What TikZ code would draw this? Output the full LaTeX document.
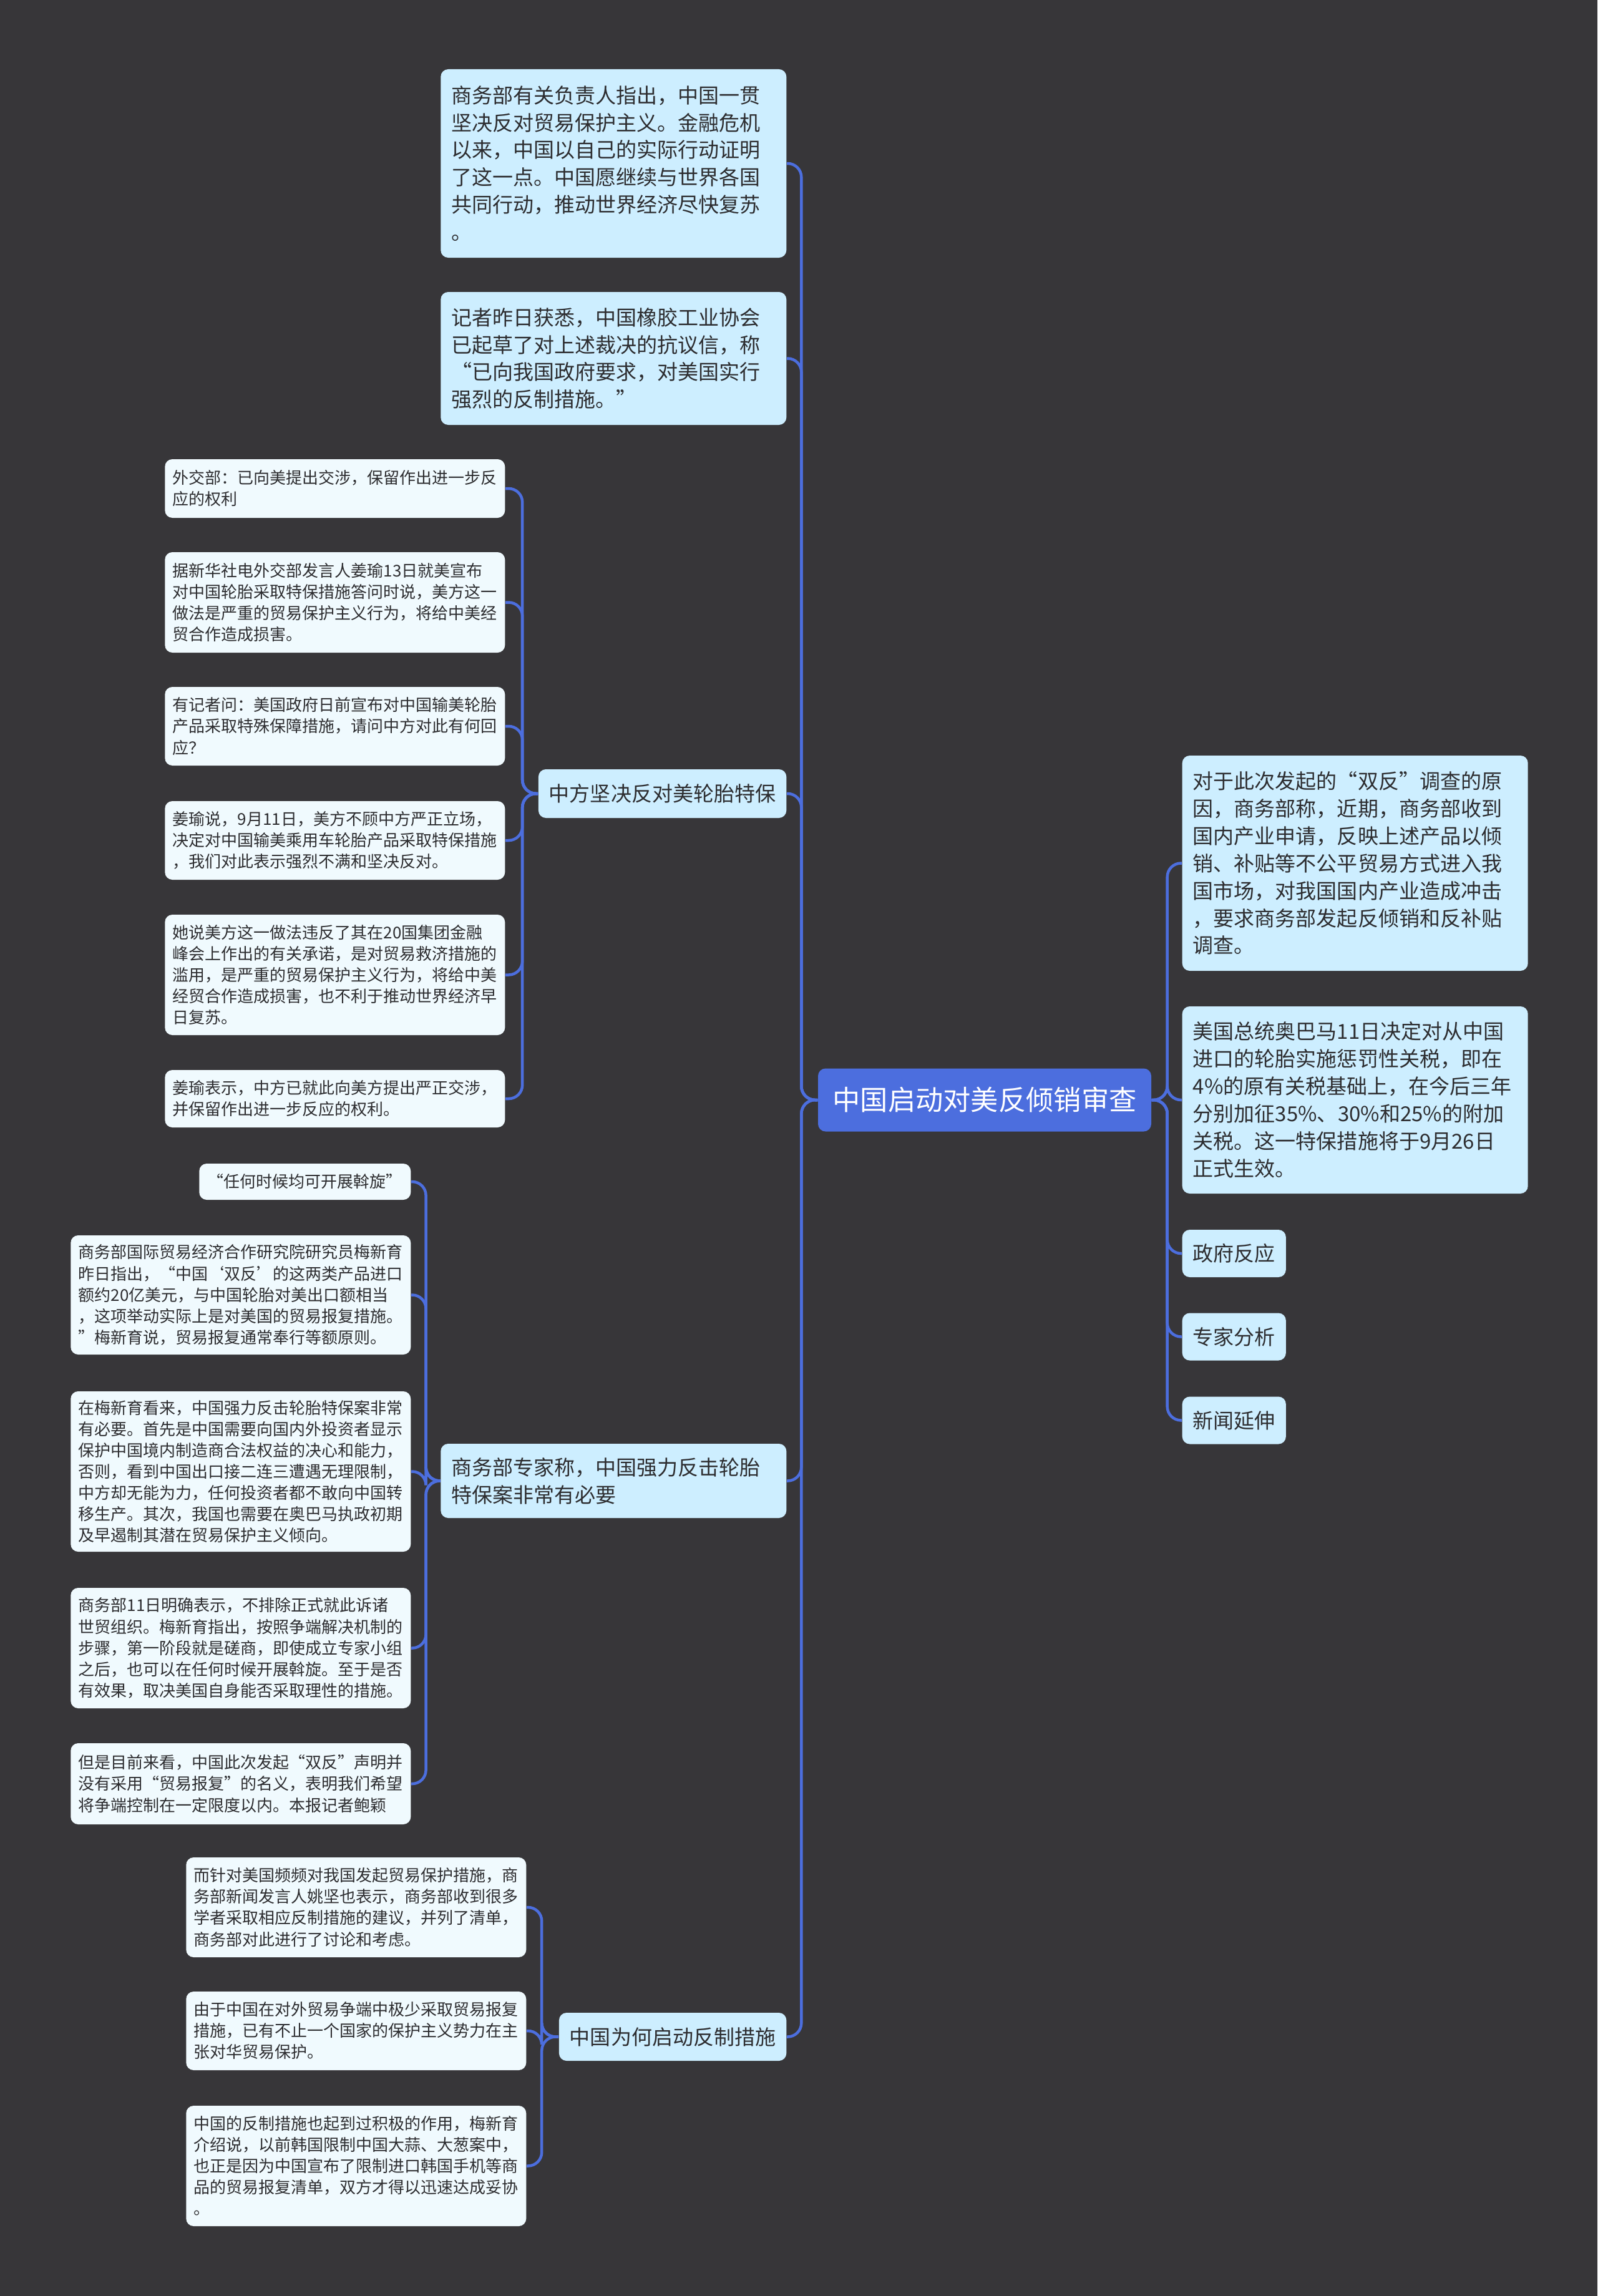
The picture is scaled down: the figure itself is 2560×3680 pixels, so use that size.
\documentclass[tikz,border=0pt]{standalone}
\usepackage{fontspec}
\setmainfont{Noto Sans CJK SC}
\usetikzlibrary{positioning,calc}
\definecolor{mmbg}{RGB}{55,54,57}
\definecolor{mmroot}{RGB}{76,110,222}
\definecolor{mmtopic}{RGB}{205,238,255}
\definecolor{mmleaf}{RGB}{240,250,254}
\definecolor{mmline}{RGB}{76,110,222}
\definecolor{mmtext}{RGB}{45,45,48}
\tikzset{
  mm/.style={font=\fontsize{9.4}{12.5}\selectfont, text=mmtext},
  mmbox/.style={
    mm, fill=#1, rounded corners=1.2mm, align=left, inner ysep=1mm
  },
  mmroot/.style={
    mmbox=mmroot, font=\fontsize{12.6}{15}\selectfont, text=white, align=center,
    minimum width=53.4mm, minimum height=10.1mm
  },
  mmtopic/.style={mmbox=mmtopic, inner xsep=1.7mm},
  mmleaf/.style={
    mmbox=mmleaf, font=\fontsize{7.4}{9.7}\selectfont, inner xsep=1.25mm, text width=52mm
  },
  mmlink/.style={draw=mmline, line width=0.45mm},
}

\begin{document}
\begin{tikzpicture}[mm, x=0.1mm, y=-0.1mm]
  \fill[mmbg] (0,0) rectangle (2560,3680);

  % centre
  \node[mmroot] (root) at (1578,1763) {中国启动对美反倾销审查};

  % right side
  \node[mmtopic, anchor=west, text width=52mm, minimum height=34.5mm] (cause) at (1894,1383.5)
    {对于此次发起的“双反”调查的原\\因，商务部称，近期，商务部收到\\国内产业申请，反映上述产品以倾\\销、补贴等不公平贸易方式进入我\\国市场，对我国国内产业造成冲击\\，要求商务部发起反倾销和反补贴\\调查。};
  \node[mmtopic, anchor=west, text width=52mm, minimum height=30mm] (tariff) at (1894,1763)
    {美国总统奥巴马11日决定对从中国\\进口的轮胎实施惩罚性关税，即在\\4\%的原有关税基础上，在今后三年\\分别加征35\%、30\%和25\%的附加\\关税。这一特保措施将于9月26日\\正式生效。};
  \node[mmtopic, anchor=west, minimum height=7.6mm] (govre) at (1894,2009) {政府反应};
  \node[mmtopic, anchor=west, minimum height=7.6mm] (expana) at (1894,2142.5) {专家分析};
  \node[mmtopic, anchor=west, minimum height=7.6mm] (newsext) at (1894,2276.5) {新闻延伸};

  % left side
  \node[mmtopic, anchor=east, text width=52mm, minimum height=30.2mm] (stance) at (1261,262)
    {商务部有关负责人指出，中国一贯\\坚决反对贸易保护主义。金融危机\\以来，中国以自己的实际行动证明\\了这一点。中国愿继续与世界各国\\共同行动，推动世界经济尽快复苏\\。};
  \node[mmtopic, anchor=east, text width=52mm, minimum height=21.3mm] (letter) at (1261,574.5)
    {记者昨日获悉，中国橡胶工业协会\\已起草了对上述裁决的抗议信，称\\“已向我国政府要求，对美国实行\\强烈的反制措施。”};
  \node[mmtopic, anchor=east, minimum height=7.8mm] (oppose) at (1261,1272) {中方坚决反对美轮胎特保};
  \node[mmtopic, anchor=east, text width=52mm, minimum height=11.9mm] (expert) at (1261,2373.5)
    {商务部专家称，中国强力反击轮胎\\特保案非常有必要};
  \node[mmtopic, anchor=east, minimum height=7.7mm] (why) at (1261,3264.5) {中国为何启动反制措施};

  % leaves of oppose
  \node[mmleaf, anchor=east, minimum height=9.4mm] (opp1) at (810,783)
    {外交部：已向美提出交涉，保留作出进一步反\\应的权利};
  \node[mmleaf, anchor=east, minimum height=16.1mm] (opp2) at (810,965.5)
    {据新华社电外交部发言人姜瑜13日就美宣布\\对中国轮胎采取特保措施答问时说，美方这一\\做法是严重的贸易保护主义行为，将给中美经\\贸合作造成损害。};
  \node[mmleaf, anchor=east, minimum height=12.6mm] (opp3) at (810,1164)
    {有记者问：美国政府日前宣布对中国输美轮胎\\产品采取特殊保障措施，请问中方对此有何回\\应？};
  \node[mmleaf, anchor=east, minimum height=12.6mm] (opp4) at (810,1347)
    {姜瑜说，9月11日，美方不顾中方严正立场，\\决定对中国输美乘用车轮胎产品采取特保措施\\，我们对此表示强烈不满和坚决反对。};
  \node[mmleaf, anchor=east, minimum height=19.3mm] (opp5) at (810,1562.5)
    {她说美方这一做法违反了其在20国集团金融\\峰会上作出的有关承诺，是对贸易救济措施的\\滥用，是严重的贸易保护主义行为，将给中美\\经贸合作造成损害，也不利于推动世界经济早\\日复苏。};
  \node[mmleaf, anchor=east, minimum height=9.2mm] (opp6) at (810,1761)
    {姜瑜表示，中方已就此向美方提出严正交涉，\\并保留作出进一步反应的权利。};

  % leaves of expert
  \node[mmleaf, anchor=east, text width=, align=center, minimum width=33.9mm, minimum height=5.8mm] (exp1) at (659,1894)
    {“任何时候均可开展斡旋”};
  \node[mmleaf, anchor=east, minimum height=19.1mm] (exp2) at (659,2075.5)
    {商务部国际贸易经济合作研究院研究员梅新育\\昨日指出，“中国‘双反’的这两类产品进口\\额约20亿美元，与中国轮胎对美出口额相当\\，这项举动实际上是对美国的贸易报复措施。\\”梅新育说，贸易报复通常奉行等额原则。};
  \node[mmleaf, anchor=east, minimum height=25.7mm] (exp3) at (659,2358.5)
    {在梅新育看来，中国强力反击轮胎特保案非常\\有必要。首先是中国需要向国内外投资者显示\\保护中国境内制造商合法权益的决心和能力，\\否则，看到中国出口接二连三遭遇无理限制，\\中方却无能为力，任何投资者都不敢向中国转\\移生产。其次，我国也需要在奥巴马执政初期\\及早遏制其潜在贸易保护主义倾向。};
  \node[mmleaf, anchor=east, minimum height=19.3mm] (exp4) at (659,2641.5)
    {商务部11日明确表示，不排除正式就此诉诸\\世贸组织。梅新育指出，按照争端解决机制的\\步骤，第一阶段就是磋商，即使成立专家小组\\之后，也可以在任何时候开展斡旋。至于是否\\有效果，取决美国自身能否采取理性的措施。};
  \node[mmleaf, anchor=east, minimum height=13mm] (exp5) at (659,2859)
    {但是目前来看，中国此次发起“双反”声明并\\没有采用“贸易报复”的名义，表明我们希望\\将争端控制在一定限度以内。本报记者鲍颖};

  % leaves of why
  \node[mmleaf, anchor=east, minimum height=16mm] (why1) at (844,3057)
    {而针对美国频频对我国发起贸易保护措施，商\\务部新闻发言人姚坚也表示，商务部收到很多\\学者采取相应反制措施的建议，并列了清单，\\商务部对此进行了讨论和考虑。};
  \node[mmleaf, anchor=east, minimum height=12.6mm] (why2) at (844,3255)
    {由于中国在对外贸易争端中极少采取贸易报复\\措施，已有不止一个国家的保护主义势力在主\\张对华贸易保护。};
  \node[mmleaf, anchor=east, minimum height=19.3mm] (why3) at (844,3471.5)
    {中国的反制措施也起到过积极的作用，梅新育\\介绍说，以前韩国限制中国大蒜、大葱案中，\\也正是因为中国宣布了限制进口韩国手机等商\\品的贸易报复清单，双方才得以迅速达成妥协\\。};

  % junctions
  \coordinate (rootl) at ([xshift=-2.6mm]root.west);
  \coordinate (rootr) at ([xshift=2.5mm]root.east);
  \coordinate (oppj) at ([xshift=-2.5mm]oppose.west);
  \coordinate (expj) at ([xshift=-2.3mm]expert.west);
  \coordinate (whyj) at ([xshift=-2.7mm]why.west);

  % links
  \foreach \c in {cause,tariff,govre,expana,newsext}
    \draw[mmlink] (\c.west) [rounded corners=2.2mm] -| (rootr) [sharp corners] -- (root.east);
  \foreach \c in {stance,letter,oppose,expert,why}
    \draw[mmlink] (\c.east) [rounded corners=2.2mm] -| (rootl) [sharp corners] -- (root.west);
  \foreach \c in {opp1,opp2,opp3,opp4,opp5,opp6}
    \draw[mmlink] (\c.east) [rounded corners=2.2mm] -| (oppj) [sharp corners] -- (oppose.west);
  \foreach \c in {exp1,exp2,exp3,exp4,exp5}
    \draw[mmlink] (\c.east) [rounded corners=2.2mm] -| (expj) [sharp corners] -- (expert.west);
  \foreach \c in {why1,why2,why3}
    \draw[mmlink] (\c.east) [rounded corners=2.2mm] -| (whyj) [sharp corners] -- (why.west);
\end{tikzpicture}
\end{document}
